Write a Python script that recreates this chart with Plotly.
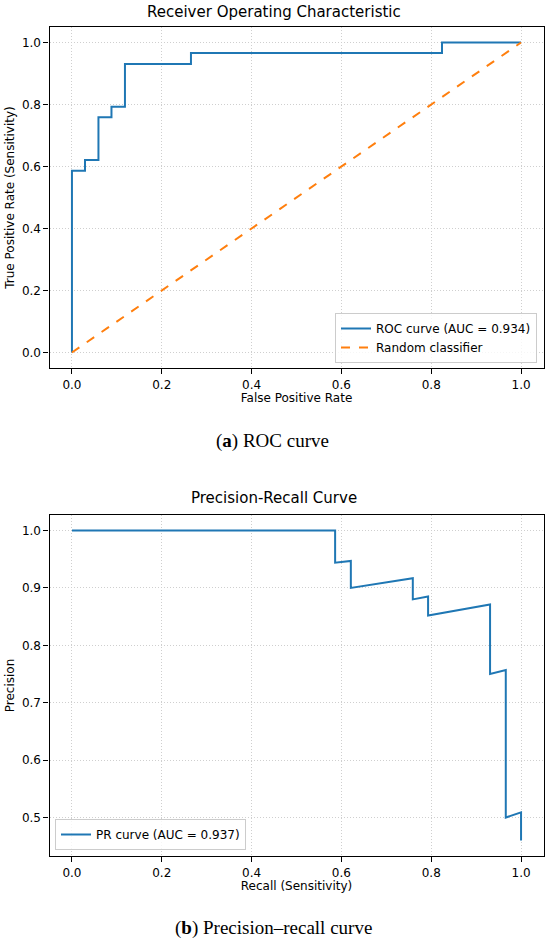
import plotly.graph_objects as go

# ROC curve points
roc_fpr = [0.0, 0.0, 0.029, 0.029, 0.059, 0.059, 0.088, 0.088, 0.118, 0.118,
           0.265, 0.265, 0.824, 0.824, 1.0]
roc_tpr = [0.0, 0.586, 0.586, 0.621, 0.621, 0.759, 0.759, 0.793, 0.793, 0.931,
           0.931, 0.966, 0.966, 1.0, 1.0]
roc_auc = 0.934

rand_x = [0.0, 1.0]
rand_y = [0.0, 1.0]

# Precision-recall curve points
pr_recall = [0.0, 0.586, 0.586, 0.621, 0.621, 0.759, 0.759, 0.793, 0.793,
             0.931, 0.931, 0.966, 0.966, 1.0, 1.0]
pr_precision = [1.0, 1.0, 0.944, 0.947, 0.900, 0.917, 0.880, 0.885, 0.852,
                0.871, 0.750, 0.757, 0.500, 0.509, 0.460]
pr_auc = 0.937

tick_01 = [0.0, 0.2, 0.4, 0.6, 0.8, 1.0]
tick_pr = [0.5, 0.6, 0.7, 0.8, 0.9, 1.0]

W, H = 550, 941
BLUE = "#1f77b4"
ORANGE = "#ff7f0e"
FONT = "DejaVu Sans"


def px(x):
    return x / W


def py(y):
    return 1 - y / H


fig = go.Figure()

fig.add_trace(go.Scatter(x=roc_fpr, y=roc_tpr, mode="lines",
                         line=dict(color=BLUE, width=2),
                         name=f"ROC curve (AUC = {roc_auc:.3f})",
                         xaxis="x", yaxis="y", legend="legend"))
fig.add_trace(go.Scatter(x=rand_x, y=rand_y, mode="lines",
                         line=dict(color=ORANGE, width=2, dash="dash"),
                         name="Random classifier",
                         xaxis="x", yaxis="y", legend="legend"))
fig.add_trace(go.Scatter(x=pr_recall, y=pr_precision, mode="lines",
                         line=dict(color=BLUE, width=2),
                         name=f"PR curve (AUC = {pr_auc:.3f})",
                         xaxis="x2", yaxis="y2", legend="legend2"))


def axis_style(**kw):
    d = dict(showline=True, mirror=True, linecolor="black", linewidth=1.2,
             ticks="outside", ticklen=5, tickwidth=1.1, tickcolor="black",
             showgrid=True, gridcolor="#cfcfcf", griddash="1px,2px", gridwidth=1,
             zeroline=False, tickfont=dict(family=FONT, size=12, color="black"),
             automargin=False)
    d.update(kw)
    return d


xdom = [px(49.5), px(543.5)]
legend_style = dict(bgcolor="rgba(255,255,255,0.8)", bordercolor="#cccccc",
                    borderwidth=1, font=dict(family=FONT, size=12),
                    itemwidth=30, tracegroupgap=0)
fig.update_layout(
    width=W, height=H,
    margin=dict(l=0, r=0, t=0, b=0),
    paper_bgcolor="white", plot_bgcolor="white",
    font=dict(family=FONT, size=12, color="black"),
    xaxis=axis_style(domain=xdom, range=[-0.05, 1.05], anchor="y",
                     tickvals=tick_01, tickformat=".1f",
                     title=dict(text="False Positive Rate", standoff=2,
                                font=dict(size=12))),
    yaxis=axis_style(domain=[py(368), py(27)], range=[-0.05, 1.05],
                     anchor="x", tickvals=tick_01, tickformat=".1f",
                     title=dict(text="True Positive Rate (Sensitivity)",
                                standoff=4, font=dict(size=12))),
    xaxis2=axis_style(domain=xdom, range=[-0.05, 1.05], anchor="y2",
                      tickvals=tick_01, tickformat=".1f",
                      title=dict(text="Recall (Sensitivity)", standoff=2,
                                 font=dict(size=12))),
    yaxis2=axis_style(domain=[py(856), py(515)], range=[0.433, 1.027],
                      anchor="x2", tickvals=tick_pr, tickformat=".1f",
                      title=dict(text="Precision", standoff=4,
                                 font=dict(size=12))),
    legend=dict(x=px(537), y=py(363), xanchor="right", yanchor="bottom",
                **legend_style),
    legend2=dict(x=px(55), y=py(850), xanchor="left", yanchor="bottom",
                 **legend_style),
    showlegend=True,
)

annotations = [
    dict(text="Receiver Operating Characteristic", x=px(273.5), y=py(11.7),
         font=dict(family=FONT, size=15)),
    dict(text="Precision-Recall Curve", x=px(273.5), y=py(498),
         font=dict(family=FONT, size=15)),
    dict(text="(<b>a</b>) ROC curve", x=px(272.5), y=py(440.7),
         font=dict(family="Liberation Serif", size=19)),
    dict(text="(<b>b</b>) Precision–recall curve", x=px(273.7), y=py(928),
         font=dict(family="Liberation Serif", size=19)),
]
for a in annotations:
    fig.add_annotation(xref="paper", yref="paper", showarrow=False,
                       xanchor="center", yanchor="middle", **a)

# drop the default page margin so the figure sits at the window's corner
fig.write_html("out.html", config={"displayModeBar": False},
               post_script="document.body.style.margin='0';")
